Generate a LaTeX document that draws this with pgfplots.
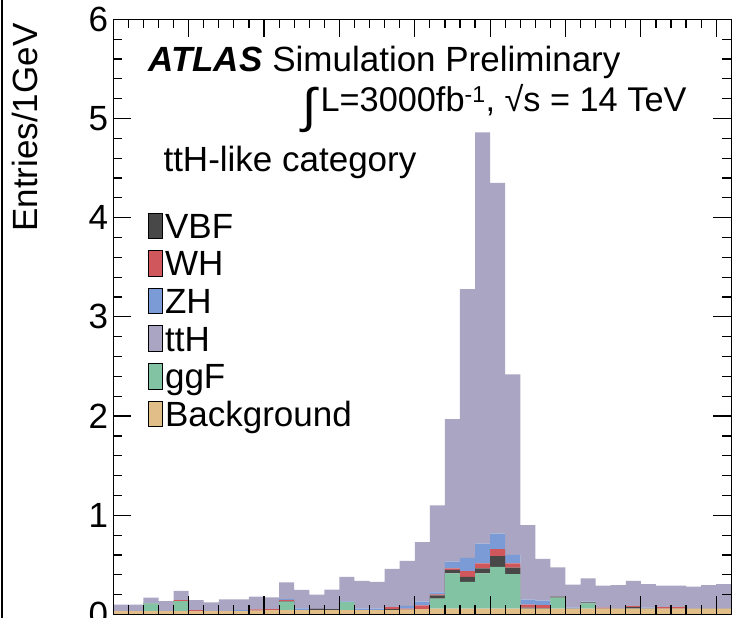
\documentclass[border=0pt]{standalone}
\usepackage{pgfplots}
\pgfplotsset{compat=1.18}
\usepackage{pgfplotstable}
\usepackage{fontspec}
\setmainfont{Liberation Sans}

\definecolor{vbfc}{RGB}{72,72,72}
\definecolor{whc}{RGB}{208,88,92}
\definecolor{zhc}{RGB}{122,155,213}
\definecolor{tthc}{RGB}{169,165,194}
\definecolor{ggfc}{RGB}{129,195,163}
\definecolor{bgc}{RGB}{225,189,135}

% one row per 1 GeV bin (left edge), last row repeats the last bin
\pgfplotstableread{
x  bg    ggf   vbf   wh    zh    tth
0  0.035 0     0     0     0     0.065
1  0.035 0     0     0     0     0.065
2  0.035 0.078 0     0.004 0.004 0.049
3  0.035 0     0     0     0     0.101
4  0.035 0.100 0     0.010 0     0.092
5  0.035 0     0     0.010 0     0.101
6  0.035 0     0     0     0     0.088
7  0.035 0     0     0     0     0.118
8  0.035 0     0     0     0.008 0.110
9  0.040 0     0     0.012 0     0.128
10 0.045 0     0     0.008 0     0.120
11 0.045 0.084 0.007 0.010 0.010 0.169
12 0.045 0     0     0     0.017 0.185
13 0.045 0     0.012 0     0     0.143
14 0.045 0     0.010 0     0     0.195
15 0.045 0.080 0     0     0.007 0.246
16 0.045 0     0     0     0.015 0.278
17 0.045 0     0     0     0.015 0.270
18 0.045 0     0.010 0.020 0     0.384
19 0.050 0     0     0.010 0.026 0.454
20 0.055 0     0     0.038 0.037 0.600
21 0.060 0.100 0.034 0.010 0.020 0.876
22 0.060 0.355 0.034 0.017 0.066 1.438
23 0.060 0.270 0.050 0.058 0.134 2.708
24 0.060 0.355 0.050 0.050 0.200 4.145
25 0.060 0.420 0.108 0.070 0.158 3.534
26 0.060 0.348 0.064 0.044 0.084 1.820
27 0.060 0     0.010 0.030 0.050 0.750
28 0.060 0     0.005 0.030 0.045 0.420
29 0.060 0.110 0.010 0     0     0.296
30 0.060 0     0     0     0.010 0.230
31 0.060 0.053 0.010 0     0.007 0.235
32 0.060 0     0     0.010 0     0.220
33 0.060 0     0     0     0     0.237
34 0.060 0     0.015 0.010 0     0.255
35 0.060 0     0     0     0.010 0.235
36 0.060 0     0     0.015 0     0.215
37 0.060 0     0     0.015 0     0.215
38 0.060 0     0     0     0     0.220
39 0.060 0     0     0     0     0.237
40 0.060 0     0     0     0     0.245
41 0.060 0     0     0     0     0.245
}\hdata

\begin{document}
\begin{tikzpicture}[font=\fontsize{35}{42}\selectfont]
\begin{axis}[
  at={(0pt,0pt)}, anchor=south west,
  scale only axis, width=618pt, height=595.2pt,
  xmin=0, xmax=41, ymin=0, ymax=6,
  stack plots=y,
  axis on top,
  tick align=inside,
  xtick={0,5,...,40}, minor x tick num=4, xticklabels={},
  ytick={0,1,...,6}, minor y tick num=4,
  major tick length=18pt, minor tick length=9pt,
  tick style={black, line width=1.2pt},
  axis line style={line width=1.4pt},
  tick label style={font=\fontsize{35}{42}\selectfont},
  yticklabel style={inner sep=0pt, xshift=-5pt},
  /pgf/number format/assume math mode=true,
  legend image code/.code={\fill[#1] (0pt,0pt) rectangle (13.4pt,25.5pt);},
  legend style={at={(rel axis cs:0.0566,0.6757)}, anchor=north west,
    draw=none, fill=none, inner sep=0pt, outer sep=0pt,
    font=\fontsize{35}{42}\selectfont, row sep=3.6pt, column sep=3pt,
    cells={anchor=base west},
    nodes={inner sep=0pt, outer sep=0pt, text height=26pt, text depth=8pt}},
]
% legend swatches first, in the order of the reference legend
\addlegendimage{fill=vbfc}
\addlegendimage{fill=whc}
\addlegendimage{fill=zhc}
\addlegendimage{fill=tthc}
\addlegendimage{fill=ggfc}
\addlegendimage{fill=bgc}

\addplot[const plot, fill=bgc, draw=none] table[x=x,y=bg]{\hdata} \closedcycle;
\addplot[const plot, fill=ggfc, draw=none] table[x=x,y=ggf]{\hdata} \closedcycle;
\addplot[const plot, fill=vbfc, draw=none] table[x=x,y=vbf]{\hdata} \closedcycle;
\addplot[const plot, fill=whc, draw=none] table[x=x,y=wh]{\hdata} \closedcycle;
\addplot[const plot, fill=zhc, draw=none] table[x=x,y=zh]{\hdata} \closedcycle;
\addplot[const plot, fill=tthc, draw=none] table[x=x,y=tth]{\hdata} \closedcycle;

\legend{VBF,WH,ZH,ttH,ggF,Background}
\end{axis}

\node[anchor=base west] at (31.7pt,542.5pt) {\textbf{\textit{ATLAS}} Simulation Preliminary};
\node[anchor=base east, font=\fontsize{34.3}{40}\selectfont] at (576.7pt,502.5pt)
  {\raisebox{-10.6pt}{\scalebox{1.5}[1.4]{∫}}\hspace{4pt}L=3000fb\textsuperscript{\fontsize{23}{23}\selectfont -1}, √s = 14 TeV};
\node[anchor=base west] at (46.7pt,442.5pt) {ttH-like category};
\node[rotate=90, anchor=base east] at (-75.8pt,594.5pt) {Entries/1GeV};
\draw[line width=2pt] (-111.6pt,-3.5pt) -- (-111.6pt,614.5pt);

\pgfresetboundingbox
\path[use as bounding box] (-113.3pt,-3.5pt) rectangle (620.7pt,614.5pt);
\end{tikzpicture}
\end{document}
